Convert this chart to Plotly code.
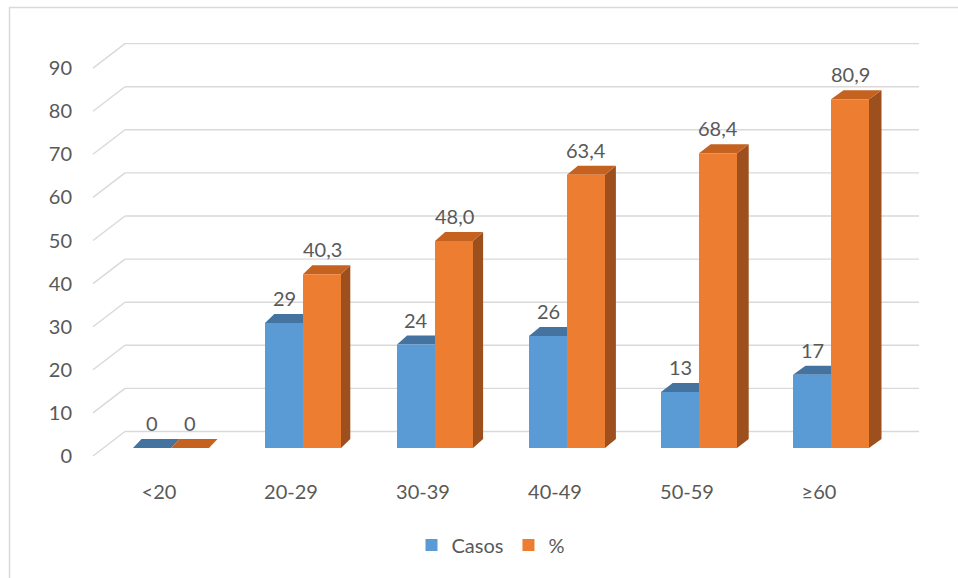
import plotly.graph_objects as go

# ---------------- data ----------------
categories = ["<20", "20-29", "30-39", "40-49", "50-59", "≥60"]
casos = [0, 29, 24, 26, 13, 17]
pct = [0, 40.3, 48.0, 63.4, 68.4, 80.9]
y_ticks = [0, 10, 20, 30, 40, 50, 60, 70, 80, 90]

# ---------------- styling / geometry ----------------
W, H = 958, 578
FONT = "Lato"
FS = 20
TXT = "#595959"
GRID = "#D9D9D9"
BLUE, BLUE_TOP, BLUE_SIDE = "#5B9BD5", "#44739F", "#3A6591"
ORANGE, ORANGE_TOP, ORANGE_SIDE = "#ED7D31", "#C5621F", "#9E4F1E"

PX_PER_X = 132.0          # pixels per category step
PX_PER_Y = 4.31           # pixels per value unit
X_LEFT_PX, X_RIGHT_PX = 93, 919
FIRST_CENTER_PX = 171
BASE_PX = 448             # pixel row of value 0 (bar base)
x_range = [-(FIRST_CENTER_PX - X_LEFT_PX) / PX_PER_X, (X_RIGHT_PX - FIRST_CENTER_PX) / PX_PER_X]
y_range = [-3, 96]
ybot_px = BASE_PX - y_range[0] * PX_PER_Y
ytop_px = BASE_PX - y_range[1] * PX_PER_Y

BAR_W = 38 / PX_PER_X     # width of one bar in x units
BARGAP = 1 - 2 * BAR_W
DEPTH_DY = 9 / PX_PER_Y   # depth offset (vertical) in y units
FRONT_OFF = -8 / PX_PER_Y  # front floor edge offset
BACK_OFF = 16.5 / PX_PER_Y  # back wall offset
WALL_X = (125 - X_LEFT_PX) / (X_RIGHT_PX - X_LEFT_PX)  # back wall start in x-domain fraction

xs = list(range(len(categories)))

fig = go.Figure()
fig.add_trace(go.Bar(x=xs, y=casos, name="Casos", marker=dict(color=BLUE, line=dict(width=0))))
fig.add_trace(go.Bar(x=xs, y=pct, name="%", marker=dict(color=ORANGE, line=dict(width=0))))

shapes = []
# gridlines: slanted floor part + back wall part
for v in y_ticks:
    shapes.append(dict(type="line", xref="x domain", yref="y", x0=0, x1=WALL_X,
                       y0=v + FRONT_OFF, y1=v + BACK_OFF, line=dict(color=GRID, width=1.4), layer="below"))
    shapes.append(dict(type="line", xref="x domain", yref="y", x0=WALL_X, x1=1,
                       y0=v + BACK_OFF, y1=v + BACK_OFF, line=dict(color=GRID, width=1.4), layer="below"))


def faces(xc, v, dx_px, top_col, side_col):
    hw = BAR_W / 2
    xl, xr = xc - hw, xc + hw
    dx = dx_px / PX_PER_X
    dy = DEPTH_DY
    top = f"M{xl},{v} L{xr},{v} L{xr + dx},{v + dy} L{xl + dx},{v + dy} Z"
    side = f"M{xr},0 L{xr},{v} L{xr + dx},{v + dy} L{xr + dx},{dy} Z"
    out = []
    if v > 0:
        out.append(dict(type="path", xref="x", yref="y", path=side, fillcolor=side_col,
                        line=dict(width=0), layer="below"))
    out.append(dict(type="path", xref="x", yref="y", path=top, fillcolor=top_col,
                    line=dict(width=0), layer="below"))
    return out


annotations = []
for i, (c, p) in enumerate(zip(casos, pct)):
    dx_px = 8.5 + 0.8 * i  # perspective: side depth grows to the right
    xb = i - BAR_W / 2
    xo = i + BAR_W / 2
    shapes += faces(xb, c, dx_px, BLUE_TOP, BLUE_SIDE)
    shapes += faces(xo, p, dx_px, ORANGE_TOP, ORANGE_SIDE)
    annotations.append(dict(x=xb, y=c, xref="x", yref="y", text=str(c), showarrow=False,
                            yshift=25, font=dict(family=FONT, size=FS, color=TXT)))
    ptxt = "0" if p == 0 else f"{p:.1f}".replace(".", ",")
    annotations.append(dict(x=xo, y=p, xref="x", yref="y", text=ptxt, showarrow=False,
                            yshift=25, font=dict(family=FONT, size=FS, color=TXT)))

# outer chart frame
shapes.append(dict(type="rect", xref="paper", yref="paper", x0=9.5 / W, x1=1.05,
                   y0=-0.05, y1=1 - 7.5 / H, line=dict(color=GRID, width=1.5), layer="below"))

fig.update_layout(
    template="none",
    width=W, height=H,
    margin=dict(l=0, r=0, t=0, b=0, autoexpand=False),
    paper_bgcolor="white", plot_bgcolor="white",
    barmode="group", bargap=BARGAP, bargroupgap=0,
    shapes=shapes, annotations=annotations,
    font=dict(family=FONT, size=FS, color=TXT),
    xaxis=dict(range=x_range, domain=[X_LEFT_PX / W, X_RIGHT_PX / W], automargin=False,
               tickmode="array", tickvals=xs, ticktext=categories,
               showgrid=False, zeroline=False, showline=False, ticks="",
               ticklabelshift=-12, ticklabelstandoff=17,
               tickfont=dict(family=FONT, size=FS, color=TXT), fixedrange=True),
    yaxis=dict(range=y_range, domain=[(H - ybot_px) / H, (H - ytop_px) / H], automargin=False,
               tickmode="array", tickvals=y_ticks, ticktext=[str(t) for t in y_ticks],
               showgrid=False, zeroline=False, showline=False, ticks="",
               ticklabelshift=8, ticklabelstandoff=20,
               tickfont=dict(family=FONT, size=FS, color=TXT), fixedrange=True),
    legend=dict(orientation="h", x=0.512, xanchor="center", y=1 - 545 / H, yanchor="middle",
                font=dict(family=FONT, size=FS, color=TXT), traceorder="normal",
                bgcolor="rgba(0,0,0,0)"),
    showlegend=True,
)

fig.write_html("out.html")
